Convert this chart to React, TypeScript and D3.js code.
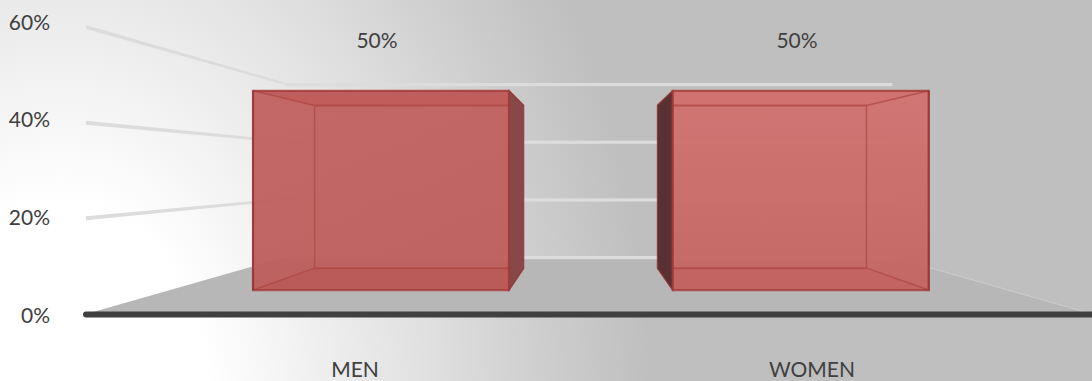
import React from "react";
import * as d3 from "d3";

const categories = ["MEN", "WOMEN"];
const shares = [50, 50];
const axisTicks = [0, 20, 40, 60];

const W = 1092;
const H = 381;
const FONT = "Lato, 'Open Sans', sans-serif";
const TEXT = "#404040";

// One-point perspective: the chart box recedes towards this vanishing point.
const VX = 589;
const VY = 170.5;
const depthScale = d3.scaleLinear().domain([0, 1]).range([1, 0.603]);
const BAR_NEAR = 0.42;
const BAR_FAR = 0.805;

const plane = { left: 86, right: 1092 };
const yPlane = d3.scaleLinear().domain([0, 60]).range([314, 27]);
const xBar = d3.scaleBand<string>().domain(categories).range([87.5, 1095]).paddingInner(0.39).paddingOuter(0.195);

const yLabel = d3.scaleLinear().domain([0, 60]).range([314.5, 21]);
const xValueLabel = d3.scaleBand<string>().domain(categories).range([167, 1007]);
const xCategoryLabel = d3.scaleBand<string>().domain(categories).range([126.5, 1040.5]);

type Pt = [number, number];
const project = (x: number, y: number, z: number): Pt => {
  const s = depthScale(z);
  return [VX + (x - VX) * s, VY + (y - VY) * s];
};
const poly = (pts: Pt[]) => pts.map((p) => p.map((n) => n.toFixed(1)).join(",")).join(" ");
const path = d3.line();

const faceFills = [
  { front: "url(#barMen)", top: "#bf5d5b", bottom: "#bb5a58", side: "#88484a" },
  { front: "url(#barWomen)", top: "#d27270", bottom: "#c46462", side: "#5a3132" },
];

function Bar({ name, value, index }: { name: string; value: number; index: number }) {
  const x0 = xBar(name)!;
  const x1 = x0 + xBar.bandwidth();
  const yT = yPlane(value);
  const yB = yPlane(0);
  const nTL = project(x0, yT, BAR_NEAR), nTR = project(x1, yT, BAR_NEAR), nBL = project(x0, yB, BAR_NEAR), nBR = project(x1, yB, BAR_NEAR);
  const fTL = project(x0, yT, BAR_FAR), fTR = project(x1, yT, BAR_FAR), fBL = project(x0, yB, BAR_FAR), fBR = project(x1, yB, BAR_FAR);
  const fill = faceFills[index];
  const edge = "#ad4442";
  const isMen = index === 0;
  // The side wall facing the centre of the chart is seen past the front face.
  const sidePts = isMen ? [nTR, fTR, fBR, nBR] : [nTL, fTL, fBL, nBL];
  const farX = isMen ? fTL[0] : fTR[0];
  const nearOuterTop = isMen ? nTL : nTR;
  const nearOuterBottom = isMen ? nBL : nBR;
  return (
    <g>
      <polygon points={poly([nTL, nTR, nBR, nBL])} fill={fill.front} fillOpacity={0.95} />
      <polygon points={poly([nTL, nTR, fTR, fTL])} fill={fill.top} fillOpacity={0.85} />
      <polygon points={poly([nBL, nBR, fBR, fBL])} fill={fill.bottom} fillOpacity={0.85} />
      <g fill="none" stroke={edge} strokeOpacity={0.7} strokeWidth={1.5}>
        <path d={path([fTL, fTR])!} strokeWidth={2} />
        <path d={path([fBL, fBR])!} strokeWidth={2} />
        <path d={path([nTL, fTL])!} />
        <path d={path([nTR, fTR])!} />
        <path d={path([nBL, fBL])!} />
        <path d={path([nBR, fBR])!} />
      </g>
      <line x1={farX} x2={farX} y1={fTL[1]} y2={fBL[1]} stroke={edge} strokeOpacity={0.7} strokeWidth={1.5} />
      <polygon points={poly(sidePts)} fill={fill.side} stroke="#8c3533" strokeOpacity={0.8} strokeWidth={1.2} />
      <polygon points={poly([nTL, nTR, nBR, nBL])} fill="none" stroke="#a23a38" strokeOpacity={0.8} strokeWidth={2.2} />
      <line x1={nearOuterTop[0]} x2={nearOuterBottom[0]} y1={nearOuterTop[1]} y2={nearOuterBottom[1]} stroke="#8e302e" strokeOpacity={0.6} strokeWidth={2} />
    </g>
  );
}

export default function App() {
  const floor = [
    project(plane.left, yPlane(0), 0),
    project(plane.right, yPlane(0), 0),
    project(plane.right, yPlane(0), 1),
    project(plane.left, yPlane(0), 1),
  ];
  return (
    <svg width={W} height={H} viewBox={`0 0 ${W} ${H}`} style={{ position: "absolute", left: 0, top: 0 }}>
      <defs>
        <radialGradient
          id="backdrop"
          gradientUnits="userSpaceOnUse"
          cx={0}
          cy={0}
          r={1}
          gradientTransform="translate(60 400) scale(670 900)"
        >
          <stop offset="0.22" stopColor="#ffffff" />
          <stop offset="0.4" stopColor="#eeeeee" />
          <stop offset="0.55" stopColor="#e0e0e0" />
          <stop offset="0.71" stopColor="#cfcfcf" />
          <stop offset="0.88" stopColor="#bfbfbf" />
        </radialGradient>
        <linearGradient id="barMen" x1="0" y1="0" x2="0" y2="1">
          <stop offset="0" stopColor="#c16160" />
          <stop offset="1" stopColor="#bd5d5b" />
        </linearGradient>
        <linearGradient id="barWomen" x1="0" y1="0" x2="0" y2="1">
          <stop offset="0" stopColor="#d27270" />
          <stop offset="1" stopColor="#c46461" />
        </linearGradient>
      </defs>
      <rect width={W} height={H} fill="url(#backdrop)" />

      {/* Floor of the box */}
      <polygon points={poly(floor)} fill="#b7b7b7" />
      <path d={path([floor[1], floor[2]])!} fill="none" stroke="#d4d4d4" strokeWidth={0.7} />

      {/* Gridlines: left wall tapers into the back wall */}
      {axisTicks.map((t) => {
        const a = project(plane.left, yPlane(t), 0);
        const b = project(plane.left, yPlane(t), 1);
        const c = project(plane.right, yPlane(t), 1);
        return (
          <g key={t} fill="#dcdcdc" stroke="none">
            {t > 0 && <polygon points={poly([[a[0], a[1] - 2], [b[0], b[1] - 1.2], [b[0], b[1] + 1.2], [a[0], a[1] + 2]])} />}
            <rect x={b[0]} y={b[1] - 1.6 + 0.6} width={c[0] - b[0]} height={3.2} />
          </g>
        );
      })}

      {categories.map((name, i) => (
        <Bar key={name} name={name} value={shares[i]} index={i} />
      ))}

      {/* Category axis */}
      <line x1={plane.left} x2={plane.right + 4} y1={yPlane(0) + 0.5} y2={yPlane(0) + 0.5} stroke="#404040" strokeWidth={6} strokeLinecap="round" />

      <g fontFamily={FONT} fontSize={21} fill={TEXT}>
        {axisTicks.map((t) => (
          <text key={t} x={50} y={yLabel(t)} textAnchor="end" dominantBaseline="central">
            {t}%
          </text>
        ))}
        {categories.map((name, i) => (
          <text key={name} x={xValueLabel(name)! + xValueLabel.bandwidth() / 2} y={39.5} textAnchor="middle" dominantBaseline="central">
            {shares[i]}%
          </text>
        ))}
        {categories.map((name) => (
          <text key={name} x={xCategoryLabel(name)! + xCategoryLabel.bandwidth() / 2} y={368.5} textAnchor="middle" dominantBaseline="central">
            {name}
          </text>
        ))}
      </g>
    </svg>
  );
}
